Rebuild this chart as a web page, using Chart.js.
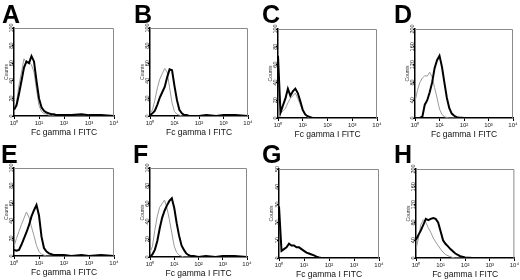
<!DOCTYPE html>
<html>
<head>
<meta charset="utf-8">
<script src="https://cdn.jsdelivr.net/npm/chart.js@4.4.1/dist/chart.umd.min.js"></script>
<style>
    body { margin: 0; background: #fff; }
    #fig { position: relative; width: 520px; height: 280px; overflow: hidden; font-family: "Liberation Sans", Arial, sans-serif; }
    #fig canvas { position: absolute; }
    .letter { position: absolute; font-weight: bold; font-size: 25px; line-height: 24px; color: #000; }
</style>
</head>
<body>
<div id="fig"></div>
<script>
// fluorescence channels (log scale) shared by all histograms
const channels = [1, 1.26, 1.58, 2, 2.51, 3.16, 3.98, 5.01, 6.31, 7.94, 10, 12.6, 15.8, 20, 25.1, 31.6, 39.8, 50.1, 63.1, 100, 200, 500, 1000, 3000, 10000];
const decades = [1, 10, 100, 1000, 10000];
const decadeLabels = ['10⁰', '10¹', '10²', '10³', '10⁴'];

// black = stained, gray = control
const aBlack = [7, 12, 25, 40, 55, 62, 60, 68, 62, 40, 20, 10, 6, 4, 3, 2, 2, 1, 1, 1, 1, 2, 1, 1, 0];
const aGray  = [5, 15, 35, 50, 65, 60, 62, 58, 50, 30, 12, 5, 3, 2, 1, 1, 0, 0, 0, 0, 0, 0, 0, 0, 0];
const bBlack = [1, 3, 6, 13, 21, 27, 33, 44, 53, 52, 34, 18, 7, 3, 1, 1, 0, 0, 0, 0, 1, 0, 1, 1, 0];
const bGray  = [3, 7, 18, 32, 42, 48, 54, 50, 32, 15, 5, 2, 1, 0, 0, 0, 0, 0, 0, 0, 0, 0, 0, 0, 0];
const cBlack = [70, 6, 14, 22, 33, 25, 30, 33, 28, 19, 9, 4, 2, 1, 0, 0, 0, 0, 0, 0, 0, 0, 0, 0, 0];
const cGray  = [3, 5, 8, 11, 17, 22, 25, 28, 22, 15, 8, 3, 1, 0, 0, 0, 0, 0, 0, 0, 0, 0, 0, 0, 0];
const dBlack = [0, 0, 0, 3, 30, 40, 58, 80, 112, 130, 140, 115, 80, 45, 22, 10, 5, 2, 1, 0, 0, 0, 0, 0, 0];
const dGray  = [37, 62, 80, 90, 95, 94, 103, 92, 68, 45, 20, 8, 3, 1, 0, 0, 0, 0, 0, 0, 0, 0, 0, 0, 0];
const eBlack = [7, 6, 7, 13, 20, 27, 35, 45, 52, 58, 46, 22, 9, 5, 3, 2, 1, 1, 1, 1, 0, 1, 0, 1, 0];
const eGray  = [11, 20, 28, 36, 43, 50, 44, 33, 23, 12, 5, 2, 1, 0, 0, 0, 0, 0, 0, 0, 0, 0, 0, 0, 0];
const fBlack = [0, 3, 8, 18, 32, 44, 52, 58, 63, 66, 55, 38, 24, 13, 8, 4, 2, 1, 1, 0, 1, 0, 1, 1, 0];
const fGray  = [5, 12, 30, 46, 56, 60, 64, 55, 42, 27, 12, 5, 2, 1, 0, 0, 0, 0, 0, 0, 0, 0, 0, 0, 0];
const gBlack = [29, 4, 5, 6, 8, 7, 7, 6, 6, 5, 4, 3, 2.5, 2, 1.5, 0.8, 0.3, 0, 0, 0, 0, 0, 0, 0, 0];
const hBlack = [41, 52, 62, 75, 88, 85, 88, 90, 88, 80, 60, 40, 32, 26, 20, 15, 10, 7, 4, 1, 0, 0, 0, 0, 0];
const hGray  = [19, 45, 75, 86, 80, 68, 58, 45, 36, 28, 20, 13, 8, 5, 3, 1, 0, 0, 0, 0, 0, 0, 0, 0, 0];

const yMaxes = [100, 100, 100, 200, 100, 100, 50, 200];
const ySteps = [20, 20, 20, 40, 20, 20, 10, 40];

const panels = [
    { letter: 'A', black: aBlack, gray: aGray },
    { letter: 'B', black: bBlack, gray: bGray },
    { letter: 'C', black: cBlack, gray: cGray },
    { letter: 'D', black: dBlack, gray: dGray },
    { letter: 'E', black: eBlack, gray: eGray },
    { letter: 'F', black: fBlack, gray: fGray },
    { letter: 'G', black: gBlack, gray: null },
    { letter: 'H', black: hBlack, gray: hGray }
];

// layout: canvas origin, padding around the plot, letter position
const layout = [
    { x: 0,   y: 0,   pad: [0, 28, 16, 2],  lx: 2,   ly: 2 },
    { x: 130, y: 0,   pad: [6, 28, 12, 2],  lx: 134, ly: 2 },
    { x: 260, y: 0,   pad: [4, 29, 13, 0],  lx: 262, ly: 2 },
    { x: 390, y: 0,   pad: [11, 29, 7, 0],  lx: 394, ly: 2 },
    { x: 0,   y: 140, pad: [0, 28, 16, 2],  lx: 1,   ly: 142 },
    { x: 130, y: 140, pad: [6, 28, 13, 1],  lx: 133, ly: 142 },
    { x: 260, y: 140, pad: [5, 29, 11, 0],  lx: 262, ly: 142 },
    { x: 390, y: 140, pad: [12, 29, 4, 0],  lx: 394, ly: 142 }
];

// gray top/right edge of the plot box
const frame = {
    id: 'frame',
    afterDatasetsDraw(chart) {
        const a = chart.chartArea;
        const ctx = chart.ctx;
        ctx.save();
        ctx.strokeStyle = '#8a8a8a';
        ctx.lineWidth = 1;
        ctx.beginPath();
        ctx.moveTo(a.left, a.top + 0.5);
        ctx.lineTo(a.right - 0.5, a.top + 0.5);
        ctx.lineTo(a.right - 0.5, a.bottom);
        ctx.stroke();
        ctx.restore();
    }
};

function toPoints(values) {
    return channels.map((c, i) => ({ x: c, y: values[i] }));
}

const fig = document.getElementById('fig');

panels.forEach((p, i) => {
    const pos = layout[i];
    const canvas = document.createElement('canvas');
    canvas.width = 130;
    canvas.height = 140;
    canvas.style.left = pos.x + 'px';
    canvas.style.top = pos.y + 'px';
    fig.appendChild(canvas);

    const letter = document.createElement('div');
    letter.className = 'letter';
    letter.textContent = p.letter;
    letter.style.left = pos.lx + 'px';
    letter.style.top = pos.ly + 'px';
    fig.appendChild(letter);

    const datasets = [{
        data: toPoints(p.black),
        borderColor: '#000',
        borderWidth: 2
    }];
    if (p.gray) {
        datasets.push({
            data: toPoints(p.gray),
            borderColor: '#9a9a9a',
            borderWidth: 1
        });
    }

    new Chart(canvas, {
        type: 'line',
        data: { datasets: datasets },
        options: {
            responsive: false,
            animation: false,
            layout: { padding: { left: pos.pad[0], top: pos.pad[1], right: pos.pad[2], bottom: pos.pad[3] } },
            plugins: { legend: { display: false }, tooltip: { enabled: false } },
            elements: { point: { radius: 0 }, line: { tension: 0 } },
            scales: {
                x: {
                    type: 'logarithmic',
                    min: 1,
                    max: 10000,
                    afterBuildTicks: s => { s.ticks = decades.map(v => ({ value: v })); },
                    afterFit: s => { s.height = 22; },
                    ticks: {
                        autoSkip: false,
                        maxRotation: 0,
                        padding: 1,
                        color: '#222',
                        font: { family: 'Liberation Sans', size: 6 },
                        callback: v => decadeLabels[Math.round(Math.log10(v))]
                    },
                    grid: { drawOnChartArea: false, tickLength: 3, color: '#000' },
                    border: { color: '#000', width: 1.5 },
                    title: {
                        display: true,
                        text: 'Fc gamma I FITC',
                        color: '#111',
                        padding: 0,
                        font: { family: 'Liberation Sans', size: 8.5 }
                    }
                },
                y: {
                    min: 0,
                    max: yMaxes[i],
                    afterFit: s => { s.width = 14; },
                    ticks: {
                        stepSize: ySteps[i],
                        minRotation: 90,
                        maxRotation: 90,
                        crossAlign: 'center',
                        padding: -4,
                        color: '#222',
                        font: { family: 'Liberation Sans', size: 5.5 }
                    },
                    grid: { drawOnChartArea: false, tickLength: 2, color: '#000' },
                    border: { color: '#000', width: 1.5 },
                    title: {
                        display: true,
                        text: 'Counts',
                        color: '#333',
                        padding: { top: 4, bottom: 0 },
                        font: { family: 'Liberation Sans', size: 5 }
                    }
                }
            }
        },
        plugins: [frame]
    });
});
</script>
</body>
</html>
